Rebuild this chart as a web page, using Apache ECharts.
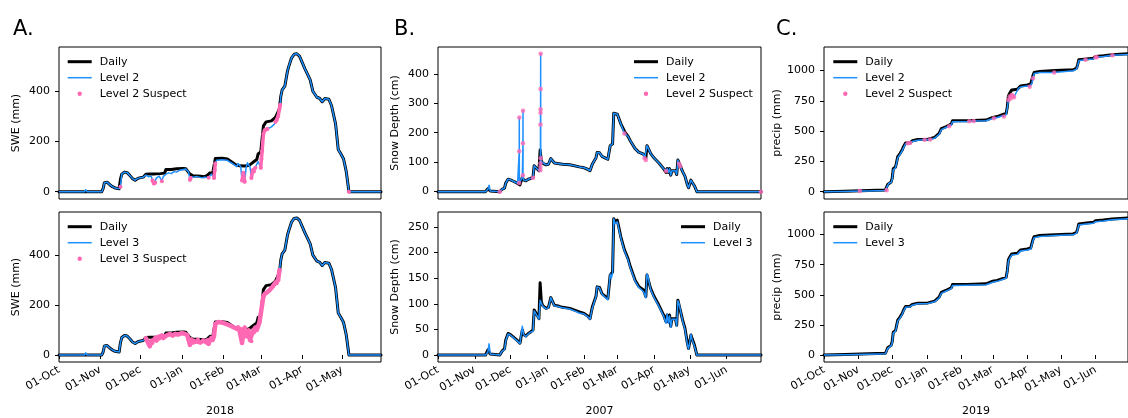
<!DOCTYPE html>
<html>
<head>
<meta charset="utf-8">
<script src="https://cdn.jsdelivr.net/npm/echarts@6/dist/echarts.min.js"></script>
<style>
html, body { margin: 0; padding: 0; background: #fff; }
#chart { width: 1128px; height: 418px; }
</style>
</head>
<body>
<div id="chart"></div>
<script>
// ---------- A. SWE, water year 2018 ----------
const aDaily = [
  ['2017-10-01',0],['2017-11-02',0],['2017-11-03',12],['2017-11-04',36],['2017-11-05',40],['2017-11-06',38],
  ['2017-11-08',28],['2017-11-10',20],['2017-11-12',15],['2017-11-15',12],['2017-11-16',50],['2017-11-17',70],
  ['2017-11-19',78],['2017-11-21',76],['2017-11-23',65],['2017-11-25',52],['2017-11-27',46],['2017-11-29',53],
  ['2017-12-01',56],['2017-12-03',58],['2017-12-05',70],['2017-12-08',71],['2017-12-12',71],['2017-12-16',72],
  ['2017-12-19',74],['2017-12-20',88],['2017-12-24',88],['2017-12-28',91],['2018-01-02',92],['2018-01-04',91],
  ['2018-01-07',70],['2018-01-09',64],['2018-01-12',63],['2018-01-15',62],['2018-01-18',60],['2018-01-20',65],
  ['2018-01-22',75],['2018-01-24',72],['2018-01-25',78],['2018-01-26',132],['2018-01-31',133],['2018-02-04',130],
  ['2018-02-07',119],['2018-02-10',108],['2018-02-13',103],['2018-02-17',102],['2018-02-20',104],['2018-02-22',112],
  ['2018-02-24',120],['2018-02-26',128],['2018-02-27',150],['2018-02-28',155],['2018-03-01',158],['2018-03-02',210],
  ['2018-03-03',262],['2018-03-05',278],['2018-03-09',282],['2018-03-12',296],['2018-03-15',330],['2018-03-16',380],
  ['2018-03-17',405],['2018-03-19',420],['2018-03-21',480],['2018-03-22',499],['2018-03-24',532],['2018-03-26',547],
  ['2018-03-28',549],['2018-03-30',540],['2018-04-03',490],['2018-04-07',445],['2018-04-09',400],['2018-04-12',376],
  ['2018-04-14',372],['2018-04-16',358],['2018-04-18',371],['2018-04-21',368],['2018-04-23',342],['2018-04-26',270],
  ['2018-04-28',168],['2018-04-30',150],['2018-05-02',130],['2018-05-04',80],['2018-05-06',0],['2018-05-30',0]
];
const aLevel2 = [
  ['2017-10-01',0],['2017-10-20',0],['2017-10-21',8],['2017-10-22',0],['2017-11-02',0],['2017-11-03',12],
  ['2017-11-04',36],['2017-11-05',40],['2017-11-06',38],['2017-11-08',28],['2017-11-10',20],['2017-11-12',15],
  ['2017-11-15',12],['2017-11-16',20],['2017-11-16 12:00',50],['2017-11-17',70],['2017-11-19',78],['2017-11-21',76],
  ['2017-11-23',65],['2017-11-25',52],['2017-11-27',46],['2017-11-29',53],['2017-12-01',56],['2017-12-03',58],
  ['2017-12-05',66],['2017-12-07',60],['2017-12-09',62],['2017-12-10',45],['2017-12-11',33],['2017-12-12',36],
  ['2017-12-13',55],['2017-12-15',62],['2017-12-16',65],['2017-12-17',42],['2017-12-18',60],['2017-12-20',70],
  ['2017-12-22',75],['2017-12-24',72],['2017-12-26',80],['2017-12-28',78],['2017-12-30',85],['2018-01-02',88],
  ['2018-01-04',90],['2018-01-06',78],['2018-01-07',48],['2018-01-07 12:00',55],['2018-01-08',60],['2018-01-10',58],
  ['2018-01-12',61],['2018-01-14',58],['2018-01-16',55],['2018-01-18',58],['2018-01-21',56],['2018-01-23',70],
  ['2018-01-24',68],['2018-01-25',55],['2018-01-25 12:00',85],['2018-01-26',112],['2018-01-27',125],['2018-01-31',127],
  ['2018-02-04',125],['2018-02-07',115],['2018-02-09',108],['2018-02-11',100],['2018-02-12',112],['2018-02-14',100],
  ['2018-02-15',45],['2018-02-16',75],['2018-02-17',40],['2018-02-18',95],['2018-02-19',115],['2018-02-20',108],
  ['2018-02-21',98],['2018-02-22',55],['2018-02-23',85],['2018-02-24',80],['2018-02-25',95],['2018-02-26',110],
  ['2018-02-27',120],['2018-02-28',118],['2018-03-01',95],['2018-03-01 12:00',130],['2018-03-02',160],['2018-03-03',230],
  ['2018-03-04',245],['2018-03-05',248],['2018-03-06',250],['2018-03-09',258],['2018-03-11',268],['2018-03-12',278],
  ['2018-03-13',285],['2018-03-14',300],['2018-03-15',330],['2018-03-15 12:00',345],['2018-03-16',380],
  ['2018-03-17',405],['2018-03-19',420],['2018-03-21',480],['2018-03-22',499],['2018-03-24',532],['2018-03-26',547],
  ['2018-03-28',549],['2018-03-30',540],['2018-04-03',490],['2018-04-07',445],['2018-04-09',400],['2018-04-12',376],
  ['2018-04-14',372],['2018-04-16',358],['2018-04-18',371],['2018-04-21',368],['2018-04-23',342],['2018-04-26',270],
  ['2018-04-28',168],['2018-04-30',150],['2018-05-02',130],['2018-05-04',80],['2018-05-06',0],['2018-05-30',0]
];
// flagged Level 2 values; null separates runs of consecutive flags
const aSuspect2 = [
  ['2017-11-16',20], null,
  ['2017-12-10',45],['2017-12-11',33],['2017-12-12',36], null,
  ['2017-12-17',42], null,
  ['2018-01-07',48],['2018-01-07 12:00',55], null,
  ['2018-01-21',56], null,
  ['2018-01-25',55],['2018-01-25 12:00',85],['2018-01-26',112], null,
  ['2018-02-15',45],['2018-02-16',75],['2018-02-17',40], null,
  ['2018-02-22',55],['2018-02-23',85],['2018-02-24',80],['2018-02-25',95], null,
  ['2018-03-01',95],['2018-03-01 12:00',130],['2018-03-02',160],['2018-03-03',230],['2018-03-04',245],
  ['2018-03-05',248],['2018-03-06',250], null,
  ['2018-03-12',278],['2018-03-13',285],['2018-03-14',300],['2018-03-15',330],['2018-03-15 12:00',345], null,
  ['2018-05-06',0]
];
const aLevel3 = [
  ['2017-10-01',0],['2017-10-20',0],['2017-10-21',9],['2017-10-22',0],['2017-11-02',0],['2017-11-03',12],
  ['2017-11-04',36],['2017-11-05',40],['2017-11-06',38],['2017-11-08',28],['2017-11-10',20],['2017-11-12',15],
  ['2017-11-15',12],['2017-11-16',50],['2017-11-17',70],['2017-11-19',78],['2017-11-21',76],['2017-11-23',65],
  ['2017-11-25',52],['2017-11-27',46],['2017-11-29',53],['2017-12-01',56],['2017-12-03',58],
  ['2017-12-05',67],['2017-12-06',60],['2017-12-07',45],['2017-12-08',35],['2017-12-09',55],['2017-12-10',48],
  ['2017-12-11',62],['2017-12-12',70],['2017-12-13',58],['2017-12-14',72],['2017-12-15',65],['2017-12-17',78],
  ['2017-12-18',68],['2017-12-19',75],['2017-12-21',80],['2017-12-23',84],['2017-12-25',78],['2017-12-27',85],
  ['2017-12-29',82],['2018-01-01',88],['2018-01-03',85],['2018-01-05',80],['2018-01-06',60],['2018-01-07',40],
  ['2018-01-08',62],['2018-01-09',50],['2018-01-10',58],['2018-01-12',55],['2018-01-13',62],['2018-01-15',50],
  ['2018-01-17',58],['2018-01-19',52],['2018-01-20',60],['2018-01-21',45],['2018-01-22',62],['2018-01-23',70],
  ['2018-01-24',60],['2018-01-25',75],['2018-01-26',125],['2018-01-28',132],['2018-01-31',130],['2018-02-03',125],
  ['2018-02-06',118],['2018-02-09',110],['2018-02-11',105],['2018-02-12',112],['2018-02-13',100],['2018-02-14',105],
  ['2018-02-15',48],['2018-02-16',90],['2018-02-17',110],['2018-02-18',75],['2018-02-19',95],['2018-02-20',100],
  ['2018-02-21',60],['2018-02-22',55],['2018-02-23',95],['2018-02-24',90],['2018-02-25',110],['2018-02-26',100],
  ['2018-02-27',115],['2018-02-28',130],['2018-03-01',165],['2018-03-02',200],['2018-03-03',235],['2018-03-04',245],
  ['2018-03-06',252],['2018-03-08',262],['2018-03-10',275],['2018-03-12',290],['2018-03-13',288],['2018-03-14',300],
  ['2018-03-15',340],['2018-03-16',380],['2018-03-17',405],['2018-03-19',420],['2018-03-21',480],['2018-03-22',499],
  ['2018-03-24',532],['2018-03-26',547],['2018-03-28',549],['2018-03-30',540],['2018-04-03',490],['2018-04-07',445],
  ['2018-04-09',400],['2018-04-12',376],['2018-04-14',372],['2018-04-16',358],['2018-04-18',371],['2018-04-21',368],
  ['2018-04-23',342],['2018-04-26',270],['2018-04-28',168],['2018-04-30',150],['2018-05-02',130],['2018-05-04',80],
  ['2018-05-06',0],['2018-05-30',0]
];
// every Level 3 value in this window carries a suspect flag
const aSuspect3From = '2017-12-05';
const aSuspect3To = '2018-03-15';
const aTicksX = ['2017-10-01','2017-11-01','2017-12-01','2018-01-01','2018-02-01','2018-03-01','2018-04-01','2018-05-01'];
const aTicksY = [0, 200, 400];

// ---------- B. Snow depth, water year 2007 ----------
const bDaily = [
  ['2006-10-01',0],['2006-10-31',0],['2006-11-01',3],['2006-11-02',0],['2006-11-10',0],['2006-11-12',10],
  ['2006-11-14',2],['2006-11-15',0],['2006-11-22',0],['2006-11-24',8],['2006-11-26',12],['2006-11-27',29],
  ['2006-11-29',42],['2006-12-01',40],['2006-12-03',36],['2006-12-05',32],['2006-12-07',28],['2006-12-09',23],
  ['2006-12-10',22],['2006-12-11',49],['2006-12-12',40],['2006-12-14',37],['2006-12-16',42],['2006-12-18',45],
  ['2006-12-20',49],['2006-12-21',88],['2006-12-22',84],['2006-12-25',71],['2006-12-26',141],['2006-12-27',104],
  ['2006-12-28',97],['2006-12-31',91],['2007-01-02',93],['2007-01-04',112],['2007-01-07',97],['2007-01-11',95],
  ['2007-01-14',93],['2007-01-20',91],['2007-01-28',84],['2007-02-01',81],['2007-02-04',76],['2007-02-06',71],
  ['2007-02-08',94],['2007-02-11',114],['2007-02-12',133],['2007-02-14',132],['2007-02-16',120],['2007-02-19',114],
  ['2007-02-21',110],['2007-02-23',156],['2007-02-24',153],['2007-02-25',162],['2007-02-26',266],['2007-02-27',260],
  ['2007-03-01',263],['2007-03-04',230],['2007-03-07',205],['2007-03-10',188],['2007-03-12',172],['2007-03-16',146],
  ['2007-03-19',134],['2007-03-23',127],['2007-03-25',114],['2007-03-26',156],['2007-03-27',153],['2007-03-29',130],
  ['2007-04-01',114],['2007-04-05',97],['2007-04-09',78],['2007-04-11',65],['2007-04-12',78],['2007-04-13',65],
  ['2007-04-14',78],['2007-04-15',56],['2007-04-16',71],['2007-04-19',71],['2007-04-20',58],['2007-04-21',107],
  ['2007-04-22',104],['2007-04-25',68],['2007-04-27',52],['2007-04-29',23],['2007-04-30',13],['2007-05-02',39],
  ['2007-05-03',32],['2007-05-05',19],['2007-05-07',0],['2007-06-30',0]
];
const bLevel2 = [
  ['2006-10-01',0],['2006-10-31',0],['2006-11-01',3],['2006-11-02',0],['2006-11-10',0],['2006-11-12',8],
  ['2006-11-13',22],['2006-11-14',2],['2006-11-15',0],['2006-11-22',0],['2006-11-24',8],['2006-11-26',12],
  ['2006-11-27',29],['2006-11-29',42],['2006-12-01',40],['2006-12-03',36],['2006-12-05',32],['2006-12-07',28],
  ['2006-12-08 09:00',29],['2006-12-08 10:00',137],['2006-12-08 11:00',252],['2006-12-08 12:00',27],
  ['2006-12-10',22],['2006-12-11',50],['2006-12-11 12:00',56],['2006-12-11 13:00',164],['2006-12-11 14:00',275],
  ['2006-12-11 15:00',52],['2006-12-12',40],['2006-12-14',37],['2006-12-16',42],['2006-12-18',45],['2006-12-20',47],
  ['2006-12-21',88],['2006-12-22',84],['2006-12-25',71],['2006-12-26 04:00',73],['2006-12-26 05:00',84],
  ['2006-12-26 06:00',96],['2006-12-26 07:00',228],['2006-12-26 08:00',268],['2006-12-26 09:00',280],
  ['2006-12-26 10:00',348],['2006-12-26 11:00',468],['2006-12-26 12:00',113],['2006-12-26 18:00',107],
  ['2006-12-27',102],['2006-12-28',97],['2006-12-31',91],['2007-01-02',93],['2007-01-04',112],['2007-01-07',97],
  ['2007-01-11',95],['2007-01-14',93],['2007-01-20',91],['2007-01-28',84],['2007-02-01',81],['2007-02-04',76],
  ['2007-02-06',71],['2007-02-08',94],['2007-02-11',114],['2007-02-12',133],['2007-02-14',132],['2007-02-16',120],
  ['2007-02-19',114],['2007-02-21',110],['2007-02-23',156],['2007-02-24',153],['2007-02-25',162],['2007-02-26',266],
  ['2007-02-27',260],['2007-03-01',263],['2007-03-04',230],['2007-03-07',197],['2007-03-10',188],['2007-03-12',172],
  ['2007-03-16',146],['2007-03-19',134],['2007-03-23',127],['2007-03-24',113],['2007-03-25',107],['2007-03-26',156],
  ['2007-03-27',153],['2007-03-29',130],['2007-04-01',114],['2007-04-05',97],['2007-04-09',78],['2007-04-11',70],
  ['2007-04-12',78],['2007-04-13',65],['2007-04-14',78],['2007-04-15',56],['2007-04-16',71],['2007-04-19',71],
  ['2007-04-20',58],['2007-04-21',107],['2007-04-22',95],['2007-04-23',86],['2007-04-25',68],['2007-04-27',52],
  ['2007-04-29',23],['2007-04-30',13],['2007-05-02',39],['2007-05-03',32],['2007-05-05',19],['2007-05-07',0],
  ['2007-06-30',0]
];
const bSuspect2 = [
  ['2006-11-22',0],['2006-12-08 09:00',29],['2006-12-08 10:00',137],['2006-12-08 11:00',252],
  ['2006-12-11 12:00',56],['2006-12-11 13:00',164],['2006-12-11 14:00',275],['2006-12-20',47],
  ['2006-12-26 04:00',73],['2006-12-26 05:00',84],['2006-12-26 06:00',96],['2006-12-26 07:00',228],
  ['2006-12-26 08:00',268],['2006-12-26 09:00',280],['2006-12-26 10:00',348],['2006-12-26 11:00',468],
  ['2006-12-26 12:00',113],['2007-03-07',197],['2007-03-24',113],['2007-03-25',107],['2007-04-11',70],
  ['2007-04-22',95],['2007-04-23',86],['2007-06-30',0]
];
const bLevel3 = [
  ['2006-10-01',0],['2006-10-31',0],['2006-11-01',2],['2006-11-02',0],['2006-11-10',0],['2006-11-12',6],
  ['2006-11-13',22],['2006-11-14',2],['2006-11-15',0],['2006-11-22',0],['2006-11-24',8],['2006-11-26',10],
  ['2006-11-27',27],['2006-11-29',41],['2006-12-01',39],['2006-12-03',35],['2006-12-05',31],['2006-12-07',27],
  ['2006-12-09',22],['2006-12-10',21],['2006-12-11',56],['2006-12-12',40],['2006-12-14',36],['2006-12-16',41],
  ['2006-12-18',45],['2006-12-20',46],['2006-12-21',86],['2006-12-22',82],['2006-12-25',70],['2006-12-26',107],
  ['2006-12-28',96],['2006-12-31',90],['2007-01-02',92],['2007-01-04',112],['2007-01-07',96],['2007-01-11',94],
  ['2007-01-14',92],['2007-01-20',90],['2007-01-28',82],['2007-02-01',80],['2007-02-04',75],['2007-02-06',70],
  ['2007-02-08',92],['2007-02-11',113],['2007-02-12',133],['2007-02-14',131],['2007-02-16',119],['2007-02-19',112],
  ['2007-02-21',108],['2007-02-23',158],['2007-02-24',150],['2007-02-25',160],['2007-02-26',266],['2007-02-27',256],
  ['2007-03-01',260],['2007-03-04',228],['2007-03-07',203],['2007-03-10',186],['2007-03-12',170],['2007-03-16',144],
  ['2007-03-19',132],['2007-03-23',124],['2007-03-25',112],['2007-03-26',158],['2007-03-27',152],['2007-03-29',128],
  ['2007-04-01',112],['2007-04-05',95],['2007-04-09',76],['2007-04-11',62],['2007-04-12',80],['2007-04-13',62],
  ['2007-04-14',76],['2007-04-15',54],['2007-04-16',70],['2007-04-19',70],['2007-04-20',56],['2007-04-21',106],
  ['2007-04-22',100],['2007-04-25',66],['2007-04-27',50],['2007-04-29',20],['2007-04-30',12],['2007-05-02',40],
  ['2007-05-03',30],['2007-05-05',17],['2007-05-07',0],['2007-06-30',0]
];
const bTicksX = ['2006-10-01','2006-11-01','2006-12-01','2007-01-01','2007-02-01','2007-03-01','2007-04-01','2007-05-01','2007-06-01'];
const bTicksYTop = [0, 100, 200, 300, 400];
const bTicksYBottom = [0, 50, 100, 150, 200, 250];

// ---------- C. Cumulative precipitation, water year 2019 ----------
const cDaily = [
  ['2018-10-01',0],['2018-10-20',4],['2018-11-10',10],['2018-11-25',15],['2018-11-26',17],['2018-11-27',60],
  ['2018-11-28',75],['2018-11-30',80],['2018-12-01',110],['2018-12-02',190],['2018-12-04',204],['2018-12-05',220],
  ['2018-12-06',290],['2018-12-08',315],['2018-12-10',345],['2018-12-11',370],['2018-12-13',403],['2018-12-17',405],
  ['2018-12-19',420],['2018-12-20',428],['2018-12-24',431],['2019-01-02',433],['2019-01-08',448],['2019-01-12',481],
  ['2019-01-14',520],['2019-01-15',528],['2019-01-18',536],['2019-01-21',550],['2019-01-23',560],['2019-01-24',586],
  ['2019-02-06',586],['2019-02-23',591],['2019-03-01',613],['2019-03-05',620],['2019-03-09',633],['2019-03-13',646],
  ['2019-03-14',700],['2019-03-15',790],['2019-03-16',810],['2019-03-18',840],['2019-03-23',845],['2019-03-24',860],
  ['2019-03-26',873],['2019-04-01',881],['2019-04-04',889],['2019-04-05',900],['2019-04-06',960],['2019-04-07',983],
  ['2019-04-12',992],['2019-04-26',1000],['2019-05-12',1006],['2019-05-15',1020],['2019-05-16',1050],
  ['2019-05-17',1089],['2019-05-22',1094],['2019-05-30',1102],['2019-06-01',1116],['2019-06-08',1121],
  ['2019-06-16',1130],['2019-06-30',1138]
];
const cLevel2 = [
  ['2018-10-01',0],['2018-10-20',2],['2018-11-02',5],['2018-11-10',7],['2018-11-25',11],['2018-11-26',12],
  ['2018-11-27',52],['2018-11-28',70],['2018-11-30',76],['2018-12-01',100],['2018-12-02',180],['2018-12-04',198],
  ['2018-12-05',212],['2018-12-06',280],['2018-12-08',308],['2018-12-10',338],['2018-12-11',360],['2018-12-13',396],
  ['2018-12-15',400],['2018-12-17',403],['2018-12-19',414],['2018-12-20',422],['2018-12-24',425],['2018-12-30',428],
  ['2019-01-04',430],['2019-01-08',442],['2019-01-12',474],['2019-01-14',512],['2019-01-15',522],['2019-01-18',530],
  ['2019-01-21',540],['2019-01-23',552],['2019-01-24',578],['2019-02-06',580],['2019-02-08',582],['2019-02-12',583],
  ['2019-02-23',585],['2019-03-01',604],['2019-03-02',606],['2019-03-05',612],['2019-03-09',625],['2019-03-11',620],
  ['2019-03-13',638],['2019-03-14',690],['2019-03-15',757],['2019-03-16',785],['2019-03-17',770],['2019-03-18',798],
  ['2019-03-19',790],['2019-03-20',780],['2019-03-21',800],['2019-03-23',835],['2019-03-24',852],['2019-03-26',865],
  ['2019-04-01',872],['2019-04-03',867],['2019-04-04',880],['2019-04-05',895],['2019-04-06',936],['2019-04-07',975],
  ['2019-04-12',984],['2019-04-25',983],['2019-04-26',992],['2019-05-12',998],['2019-05-15',1012],['2019-05-16',1042],
  ['2019-05-17',1080],['2019-05-22',1089],['2019-05-23',1088],['2019-05-30',1095],['2019-06-01',1110],
  ['2019-06-02',1110],['2019-06-08',1115],['2019-06-16',1125],['2019-06-30',1133]
];
const cSuspect2 = [
  ['2018-11-02',5],['2018-11-26',12],['2018-12-15',400],['2018-12-17',403],['2018-12-30',428],['2019-01-04',430],
  ['2019-01-21',540],['2019-02-08',582],['2019-02-12',583],['2019-03-02',606],['2019-03-11',620],['2019-03-15',757],
  ['2019-03-16',785],['2019-03-17',770],['2019-03-18',798],['2019-03-19',790],['2019-03-20',780],['2019-04-03',867],
  ['2019-04-06',936],['2019-04-25',983],['2019-05-23',1088],['2019-06-01',1110],['2019-06-02',1110],['2019-06-16',1125]
];
const cLevel3 = [
  ['2018-10-01',0],['2018-10-20',2],['2018-11-10',7],['2018-11-25',11],['2018-11-26',12],['2018-11-27',55],
  ['2018-11-28',70],['2018-11-30',76],['2018-12-01',100],['2018-12-02',182],['2018-12-04',198],['2018-12-05',212],
  ['2018-12-06',282],['2018-12-08',308],['2018-12-10',338],['2018-12-11',362],['2018-12-13',396],['2018-12-17',400],
  ['2018-12-19',414],['2018-12-20',422],['2018-12-24',425],['2019-01-02',428],['2019-01-08',442],['2019-01-12',474],
  ['2019-01-14',512],['2019-01-15',522],['2019-01-18',530],['2019-01-21',543],['2019-01-23',553],['2019-01-24',578],
  ['2019-02-06',580],['2019-02-23',584],['2019-03-01',605],['2019-03-05',612],['2019-03-09',625],['2019-03-13',638],
  ['2019-03-14',690],['2019-03-15',780],['2019-03-16',802],['2019-03-18',830],['2019-03-23',836],['2019-03-24',852],
  ['2019-03-26',865],['2019-04-01',872],['2019-04-04',880],['2019-04-05',895],['2019-04-06',950],['2019-04-07',975],
  ['2019-04-12',984],['2019-04-26',992],['2019-05-12',998],['2019-05-15',1012],['2019-05-16',1042],['2019-05-17',1080],
  ['2019-05-22',1087],['2019-05-30',1095],['2019-06-01',1108],['2019-06-08',1114],['2019-06-16',1124],
  ['2019-06-30',1131]
];
const cTicksX = ['2018-10-01','2018-11-01','2018-12-01','2019-01-01','2019-02-01','2019-03-01','2019-04-01','2019-05-01','2019-06-01'];
const cTicksY = [0, 250, 500, 750, 1000];

const MONTHS = ['Jan','Feb','Mar','Apr','May','Jun','Jul','Aug','Sep','Oct','Nov','Dec'];

// ---------- styling ----------
const FONT = 'DejaVu Sans';
const BLACK = '#000000';
const BLUE = '#1e90ff';
const PINK = '#ff69b4';
// legend handles: each path spans the full 24x14 handle box so that they share one scale
const ICON_THICK = 'path://M0,0M24,14M0,5.5L24,5.5L24,8.5L0,8.5Z';
const ICON_THIN = 'path://M0,0M24,14M0,6.25L24,6.25L24,7.75L0,7.75Z';
const ICON_DOT = 'path://M0,0M24,14M14.2,7A2.2,2.2,0,1,1,9.8,7A2.2,2.2,0,1,1,14.2,7Z';

// dates are placed on a numeric (millisecond) axis
const toTime = s => +echarts.time.parse(s);
const toXY = arr => arr.map(p => (p === null ? ['-', '-'] : [toTime(p[0]), p[1]]));
const inWindow = (arr, from, to) => arr.filter(p => toTime(p[0]) >= toTime(from) && toTime(p[0]) <= toTime(to));

const TOP = { top: 47, height: 152 };
const BOTTOM = { top: 212, height: 150 };
const COLS = [
  { left: 59, width: 322, xMin: '2017-10-01', xMax: '2018-05-30', ticks: aTicksX, year: '2018', letter: 'A.', letterLeft: 13 },
  { left: 438, width: 323, xMin: '2006-10-01', xMax: '2007-06-30', ticks: bTicksX, year: '2007', letter: 'B.', letterLeft: 394 },
  { left: 824, width: 317, xMin: '2018-10-01', xMax: '2019-06-30', ticks: cTicksX, year: '2019', letter: 'C.', letterLeft: 776 }
];

// one entry per subplot
const PANELS = [
  { col: 0, row: TOP, yMin: -29, yMax: 576, yTicks: aTicksY, yName: 'SWE (mm)', level: 'Level 2',
    daily: aDaily, levelData: aLevel2, suspect: aSuspect2, suspectType: 'line', suspectWidth: 3.5,
    legendLeft: 67.7, withSuspect: true },
  { col: 0, row: BOTTOM, yMin: -28, yMax: 573, yTicks: aTicksY, yName: 'SWE (mm)', level: 'Level 3',
    daily: aDaily, levelData: aLevel3, suspect: inWindow(aLevel3, aSuspect3From, aSuspect3To), suspectType: 'line', suspectWidth: 4.5,
    legendLeft: 67.7, withSuspect: true },
  { col: 1, row: TOP, yMin: -25, yMax: 491, yTicks: bTicksYTop, yName: 'Snow Depth (cm)', level: 'Level 2',
    daily: bDaily, levelData: bLevel2, suspect: bSuspect2, suspectType: 'scatter',
    legendLeft: 634, withSuspect: true },
  { col: 1, row: BOTTOM, yMin: -13.6, yMax: 279, yTicks: bTicksYBottom, yName: 'Snow Depth (cm)', level: 'Level 3',
    daily: bDaily, levelData: bLevel3, suspect: null,
    legendLeft: 681, withSuspect: false },
  { col: 2, row: TOP, yMin: -60, yMax: 1194, yTicks: cTicksY, yName: 'precip (mm)', level: 'Level 2',
    daily: cDaily, levelData: cLevel2, suspect: cSuspect2, suspectType: 'scatter',
    legendLeft: 833.3, withSuspect: true },
  { col: 2, row: BOTTOM, yMin: -58, yMax: 1188, yTicks: cTicksY, yName: 'precip (mm)', level: 'Level 3',
    daily: cDaily, levelData: cLevel3, suspect: null,
    legendLeft: 833.3, withSuspect: false }
];

const textBase = { fontFamily: FONT, fontSize: 11, color: '#000' };
const grid = [], xAxis = [], yAxis = [], series = [], legend = [], title = [];

PANELS.forEach((p, i) => {
  const c = COLS[p.col];
  const isBottom = p.row === BOTTOM;
  const xTicks = c.ticks.map(toTime);
  grid.push({
    left: c.left, width: c.width, top: p.row.top, height: p.row.height,
    show: true, borderColor: '#000', borderWidth: 1, backgroundColor: 'transparent'
  });
  xAxis.push({
    type: 'value', gridIndex: i, min: toTime(c.xMin), max: toTime(c.xMax),
    axisLine: { show: false }, splitLine: { show: false },
    axisTick: { show: isBottom, customValues: xTicks, length: 4, lineStyle: { color: '#000', width: 1 } },
    axisLabel: {
      show: isBottom, customValues: xTicks, rotate: 30, margin: 7, hideOverlap: false,
      ...textBase,
      formatter: v => '01-' + MONTHS[new Date(v).getMonth()]
    },
    name: isBottom ? c.year : '', nameLocation: 'middle', nameGap: 44, nameMoveOverlap: false,
    nameTextStyle: { ...textBase }
  });
  yAxis.push({
    type: 'value', gridIndex: i, min: p.yMin, max: p.yMax,
    axisLine: { show: false }, splitLine: { show: false },
    axisTick: { show: true, customValues: p.yTicks, length: 4, lineStyle: { color: '#000', width: 1 } },
    axisLabel: { customValues: p.yTicks, margin: 9, ...textBase, formatter: v => String(v) },
    name: p.yName, nameLocation: 'middle', nameRotate: 90, nameGap: p.col === 2 ? 41 : 37,
    nameMoveOverlap: false,
    nameTextStyle: { ...textBase }
  });
  series.push({
    type: 'line', name: 'Daily', xAxisIndex: i, yAxisIndex: i, data: toXY(p.daily), z: 2,
    symbol: 'none', lineStyle: { color: BLACK, width: 3, join: 'round', cap: 'round' }, itemStyle: { color: BLACK },
    silent: true
  });
  series.push({
    type: 'line', name: p.level, xAxisIndex: i, yAxisIndex: i, data: toXY(p.levelData), z: 3,
    symbol: 'none', lineStyle: { color: BLUE, width: 1.5, join: 'round' }, itemStyle: { color: BLUE },
    silent: true
  });
  const legendData = [
    { name: 'Daily', icon: ICON_THICK, itemStyle: { color: BLACK, borderWidth: 0 } },
    { name: p.level, icon: ICON_THIN, itemStyle: { color: BLUE, borderWidth: 0 } }
  ];
  if (p.withSuspect) {
    const name = p.level + ' Suspect';
    if (p.suspectType === 'line') {
      series.push({
        type: 'line', name, xAxisIndex: i, yAxisIndex: i, data: toXY(p.suspect), z: 4,
        symbol: 'circle', symbolSize: 4, showSymbol: true, showAllSymbol: true, connectNulls: false,
        lineStyle: { color: PINK, width: p.suspectWidth, join: 'round', cap: 'round' },
        itemStyle: { color: PINK, borderWidth: 0 }, silent: true
      });
    } else {
      series.push({
        type: 'scatter', name, xAxisIndex: i, yAxisIndex: i, data: toXY(p.suspect), z: 4,
        symbol: 'circle', symbolSize: 4.5, itemStyle: { color: PINK }, silent: true, clip: false
      });
    }
    legendData.push({ name, icon: ICON_DOT, itemStyle: { color: PINK, borderWidth: 0 } });
  }
  legend.push({
    left: p.legendLeft, top: p.row.top + 7.7, orient: 'vertical', padding: 0,
    itemWidth: 24, itemHeight: 14, itemGap: 2, selectedMode: false,
    textStyle: { ...textBase, padding: [0, 0, 0, 3] },
    data: legendData
  });
});

COLS.forEach(c => {
  title.push({
    text: c.letter, left: c.letterLeft, top: 19, padding: 0,
    textStyle: { fontFamily: FONT, fontSize: 21, fontWeight: 'normal', color: '#000' }
  });
});

const chart = echarts.init(document.getElementById('chart'), null, { renderer: 'canvas' });
chart.setOption({
  animation: false,
  backgroundColor: '#fff',
  textStyle: { fontFamily: FONT },
  title, legend, grid, xAxis, yAxis, series
});
</script>
</body>
</html>
